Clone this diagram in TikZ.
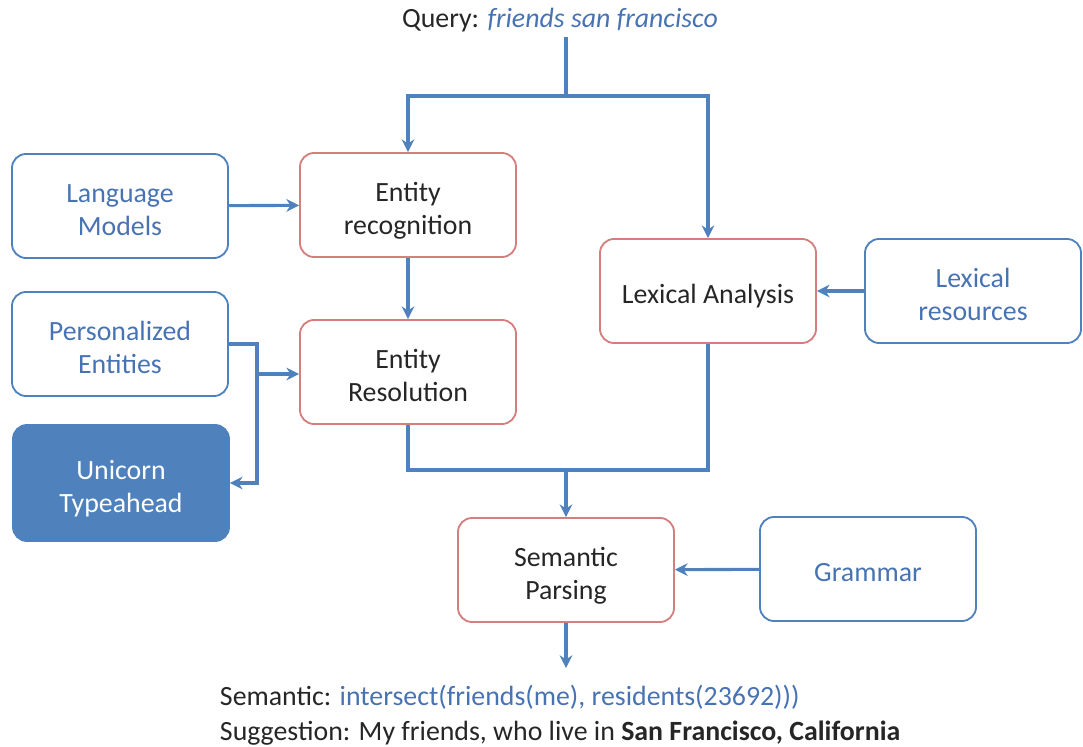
\documentclass[tikz,border=0pt]{standalone}
\usepackage{fontspec}
\setmainfont{Carlito}
\usepackage{tikz}
\usetikzlibrary{arrows.meta}
\definecolor{lineblue}{HTML}{4F81BD}
\definecolor{textblue}{HTML}{4873B3}
\definecolor{boxred}{HTML}{D47F7E}
\definecolor{inkgray}{HTML}{262626}

\begin{document}
\begin{tikzpicture}[x=0.025cm, y=-0.025cm, >={Stealth[length=9pt,width=9pt]},
                    font=\fontsize{19.8}{23.5}\selectfont,
                    stage/.style={draw=boxred, line width=1.3pt, rounded corners=10pt,
                                  minimum width=5.4cm, minimum height=2.6cm,
                                  align=center, text=inkgray, text height=46pt, text depth=3.6pt},
                    oneline/.style={text height=18.4pt, text depth=0pt},
                    source/.style={stage, draw=lineblue, text=textblue},
                    flow/.style={draw=lineblue, line width=2.2pt, ->}]
                    \useasboundingbox (0,0) rectangle (1083,747);
                    % processing stages
                    \node[stage] (recog) at (408,205) {Entity\\recognition};
                    \node[stage] (resol) at (408,372) {Entity\\Resolution};
                    \node[stage, oneline] (lexan) at (708,291) {Lexical Analysis};
                    \node[stage] (parse) at (566,570) {Semantic\\Parsing};
                    % data sources
                    \node[source] (langmod) at (120,206) {Language\\Models};
                    \node[source] (persent) at (120,344) {Personalized\\Entities};
                    \node[source, fill=lineblue, text=white, minimum height=2.9cm] (unicorn) at (121,483) {Unicorn\\Typeahead};
                    \node[source] (lexres) at (973,291) {Lexical\\resources};
                    \node[source, oneline] (grammar) at (868,569) {Grammar};
                    % query and result
                    \node[text=inkgray] (query) at (560,20) {Query: \textcolor{textblue}{\itshape friends san francisco}};
                    \node[anchor=north west, align=left, text=inkgray, font=\fontsize{19.8}{25}\selectfont] (result) at (215,680)
                        {Semantic: \textcolor{textblue}{intersect(friends(me), residents(23692)))}\\
                         Suggestion: My friends, who live in \textbf{San Francisco, California}};
                    \coordinate (split) at (566,96);
                    \coordinate (fork) at (257,374);
                    \coordinate (merge) at (566,470);
                    \coordinate (out) at (566,668);
                    % connectors
                    \draw[flow, -] (split |- query.south) -- (split);
                    \draw[flow] (split) -| (recog.north);
                    \draw[flow] (split) -| (lexan.north);
                    \draw[flow] (langmod) -- (recog);
                    \draw[flow] (recog) -- (resol);
                    \draw[flow] (lexres) -- (lexan);
                    \draw[flow] (persent.east) -| (fork) |- (unicorn.east);
                    \draw[flow] (fork) -- (fork -| resol.west);
                    \draw[flow, -] (resol.south) |- (merge) -| (lexan.south);
                    \draw[flow] (merge) -- (parse.north);
                    \draw[flow] (grammar) -- (parse);
                    \draw[flow] (parse) -- (out);
                \end{tikzpicture}
\end{document}
